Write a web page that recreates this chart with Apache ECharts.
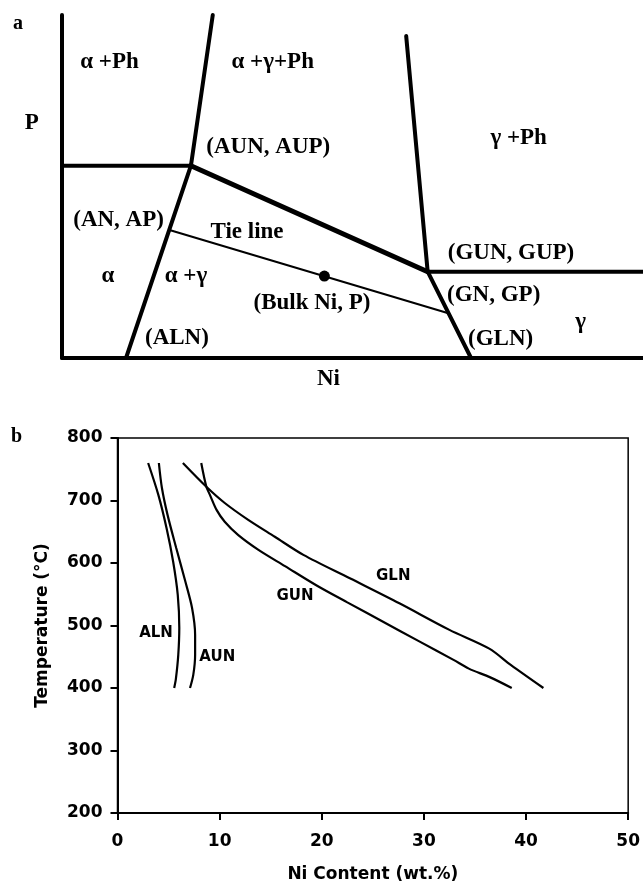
<!DOCTYPE html>
<html>
<head>
<meta charset="utf-8">
<script src="https://cdn.jsdelivr.net/npm/echarts@6.0.0/dist/echarts.min.js"></script>
<style>
  html, body { margin: 0; padding: 0; background: #fff; }
  #container { width: 643px; height: 886px; }
</style>
</head>
<body>
<div id="container"></div>
<script>
// ---- panel a : schematic (arbitrary 0..100 units) ----
var alphaBound   = [[25.95, 100], [22.19, 56.07], [11.02, 0]];
var phLeft       = [[0, 56.07], [22.19, 56.07]];
var upperTie     = [[22.19, 56.07], [62.94, 25.16]];
var phRight      = [[62.94, 25.16], [100, 25.16]];
var gammaTop     = [[59.24, 93.88], [62.94, 25.16]];
var gammaLow     = [[62.94, 25.16], [70.4, 0]];
var tieLine      = [[18.5, 37.32], [66.5, 13.03]];
var bulkPoint    = [[45.16, 23.9]];

var phaseNames = ['α +Ph', 'α +γ+Ph', '(AUN, AUP)', 'γ +Ph', '(AN, AP)', 'Tie line',
                  '(GUN, GUP)', 'α', 'α +γ', '(Bulk Ni, P)', '(GN, GP)', 'γ', '(ALN)', '(GLN)'];
var phaseAt = [[8.18, 86.4], [36.27, 86.4], [35.5, 61.5], [78.6, 64.05], [9.74, 40.2], [31.84, 36.8],
               [77.28, 30.5], [7.92, 23.9], [21.34, 23.9], [43.03, 16.1], [74.3, 18.4], [89.26, 10.6],
               [19.78, 5.7], [75.5, 5.45]];

// ---- panel b : Ni content (wt.%) vs temperature ----
var xTicks = [0, 10, 20, 30, 40, 50];
var yTicks = [200, 300, 400, 500, 600, 700, 800];
var aln = [[3.0, 760], [4.0, 709], [4.8, 656], [5.45, 602], [5.9, 549], [6.05, 496], [5.95, 453], [5.72, 415], [5.55, 400]];
var aun = [[4.05, 760], [4.35, 720], [4.9, 677], [5.75, 624], [6.65, 570], [7.3, 528], [7.6, 485], [7.6, 453], [7.42, 421], [7.1, 400]];
var gun = [[8.2, 760], [8.7, 722], [9.05, 709], [9.7, 685], [10.5, 666], [11.8, 645], [13.8, 621], [16.4, 595],
           [19.5, 564], [22.5, 537], [26.0, 506], [29.5, 475], [32.9, 445], [34.4, 431], [36.5, 417], [38.6, 400]];
var gln = [[6.4, 760], [8.7, 722], [10.5, 696], [12.8, 669], [15.4, 642], [18.2, 613], [22.75, 575.5], [27.6, 535.5],
           [32.5, 493], [36.4, 463], [38.5, 437], [41.7, 400]];
var curveNames = ['ALN', 'AUN', 'GUN', 'GLN'];
var curveLabelAt = [[3.77, 488], [9.77, 450], [17.37, 547], [27.0, 579]];

var dom = document.getElementById('container');
var myChart = echarts.init(dom);

var serif = 'Liberation Serif';
var sans = 'DejaVu Sans';

function seg(data, w) {
  return {
    type: 'line', xAxisIndex: 0, yAxisIndex: 0, data: data,
    showSymbol: false, clip: false, silent: true,
    lineStyle: { color: '#000', width: w, cap: 'round' }
  };
}
function curve(data) {
  return {
    type: 'line', xAxisIndex: 1, yAxisIndex: 1, data: data,
    smooth: 0.3, showSymbol: false, silent: true,
    lineStyle: { color: '#000', width: 2.2 }
  };
}

var series = [
  seg(alphaBound, 4), seg(phLeft, 4), seg(upperTie, 5), seg(phRight, 4),
  seg(gammaTop, 4), seg(gammaLow, 4), seg(tieLine, 2),
  {
    type: 'scatter', xAxisIndex: 0, yAxisIndex: 0, data: bulkPoint,
    symbolSize: 11, itemStyle: { color: '#000', opacity: 1 }, silent: true
  },
  {
    type: 'scatter', xAxisIndex: 0, yAxisIndex: 0, symbolSize: 0, silent: true, clip: false,
    itemStyle: { color: '#000', opacity: 1 },
    data: phaseNames.map(function (n, i) { return { name: n, value: phaseAt[i] }; }),
    label: { show: true, position: 'inside', formatter: '{b}', color: '#000',
             fontFamily: serif, fontWeight: 'bold', fontSize: 23 }
  },
  curve(aln), curve(aun), curve(gun), curve(gln),
  {
    type: 'scatter', xAxisIndex: 1, yAxisIndex: 1, symbolSize: 0, silent: true,
    itemStyle: { color: '#000', opacity: 1 },
    data: curveNames.map(function (n, i) { return { name: n, value: curveLabelAt[i] }; }),
    label: { show: true, position: 'inside', formatter: '{b}', color: '#000',
             fontFamily: sans, fontWeight: 'bold', fontSize: 15 }
  }
];

var option = {
  animation: false,
  backgroundColor: '#fff',
  grid: [
    { left: 62, top: 15, width: 581, height: 343 },
    { left: 117.5, top: 438, width: 511, height: 375, show: true, borderColor: '#000', borderWidth: 1.5 }
  ],
  xAxis: [
    { gridIndex: 0, type: 'value', min: 0, max: 100,
      axisLine: { lineStyle: { color: '#000', width: 4 } },
      axisTick: { show: false }, axisLabel: { show: false }, splitLine: { show: false } },
    { gridIndex: 1, type: 'value', min: 0, max: 50, interval: 10,
      name: 'Ni Content (wt.%)', nameLocation: 'middle', nameGap: 53,
      nameTextStyle: { fontFamily: sans, fontWeight: 'bold', fontSize: 17, color: '#000' },
      axisLine: { lineStyle: { color: '#000', width: 2 } },
      axisTick: { inside: false, length: 7, lineStyle: { color: '#000', width: 2 } },
      axisLabel: { margin: 20, fontFamily: sans, fontWeight: 'bold', fontSize: 17, color: '#000',
                   formatter: function (v) { return xTicks.indexOf(v) >= 0 ? String(v) : ''; } },
      splitLine: { show: false } }
  ],
  yAxis: [
    { gridIndex: 0, type: 'value', min: 0, max: 100,
      axisLine: { lineStyle: { color: '#000', width: 4 } },
      axisTick: { show: false }, axisLabel: { show: false }, splitLine: { show: false } },
    { gridIndex: 1, type: 'value', min: 200, max: 800, interval: 100,
      name: 'Temperature (°C)', nameLocation: 'middle', nameGap: 66,
      nameTextStyle: { fontFamily: sans, fontWeight: 'bold', fontSize: 17, color: '#000' },
      axisLine: { lineStyle: { color: '#000', width: 2 } },
      axisTick: { inside: false, length: 7, lineStyle: { color: '#000', width: 2 } },
      axisLabel: { margin: 15, fontFamily: sans, fontWeight: 'bold', fontSize: 17, color: '#000',
                   formatter: function (v) { return yTicks.indexOf(v) >= 0 ? String(v) : ''; } },
      splitLine: { show: false } }
  ],
  graphic: [
    { type: 'text', left: 13, top: 14, style: { text: 'a', font: 'bold 20px "Liberation Serif"', fill: '#000' } },
    { type: 'text', left: 11, top: 427, style: { text: 'b', font: 'bold 20px "Liberation Serif"', fill: '#000' } },
    { type: 'text', x: 31.7, y: 123, style: { text: 'P', font: 'bold 23px "Liberation Serif"', fill: '#000',
      align: 'center', verticalAlign: 'middle' } },
    { type: 'text', x: 328.5, y: 379, style: { text: 'Ni', font: 'bold 23px "Liberation Serif"', fill: '#000',
      align: 'center', verticalAlign: 'middle' } }
  ],
  series: series
};

myChart.setOption(option, true);
</script>
</body>
</html>
